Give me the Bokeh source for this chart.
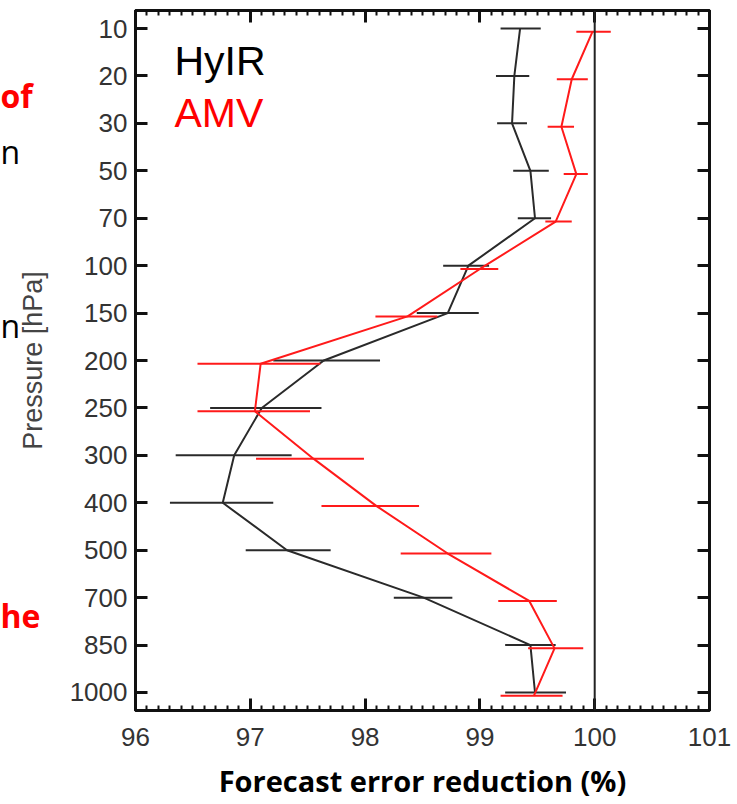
import math
from bokeh.plotting import figure
from bokeh.layouts import row
from bokeh.models import Range1d, FixedTicker, LinearAxis, Label, Span, ColumnDataSource
from bokeh.core.properties import value
from bokeh.embed import file_html
from bokeh.resources import INLINE

# ---------------- data ----------------
levels = ["10", "20", "30", "50", "70", "100", "150", "200", "250", "300",
          "400", "500", "700", "850", "1000"]
hyir = [99.35, 99.30, 99.28, 99.44, 99.48, 98.90, 98.72, 97.64, 97.10, 96.86,
        96.76, 97.32, 98.51, 99.44, 99.48]
hyir_lo = [99.18, 99.14, 99.15, 99.29, 99.33, 98.68, 98.45, 97.20, 96.65, 96.35,
           96.30, 96.96, 98.25, 99.22, 99.22]
hyir_hi = [99.53, 99.43, 99.41, 99.60, 99.62, 99.08, 98.99, 98.13, 97.62, 97.36,
           97.20, 97.70, 98.76, 99.66, 99.75]
amv = [99.98, 99.80, 99.71, 99.84, 99.66, 99.00, 98.37, 97.09, 97.04, 97.55,
       98.10, 98.72, 99.43, 99.65, 99.47]
amv_lo = [99.84, 99.67, 99.59, 99.73, 99.57, 98.83, 98.09, 96.54, 96.54, 97.05,
          97.62, 98.31, 99.16, 99.42, 99.18]
amv_hi = [100.14, 99.94, 99.82, 99.94, 99.80, 99.16, 98.63, 97.61, 97.52, 97.99,
          98.47, 99.10, 99.67, 99.90, 99.72]
x_ticks = [96, 97, 98, 99, 100, 101]
ref_value = 100
y_title = "Pressure [hPa]"
x_title = "Forecast error reduction (%)"

# cropped slide text fragments visible at the left edge
frag_red = ["of", "he"]
frag_black = ["n", "n"]

# ---------------- layout constants ----------------
W, H = 737, 804
LW = 50                      # left strip: slide fragments + y title
FL, FR, FT, FB = 135, 709, 10, 710
XMIN, XMAX = 96, 101
YPAD = 0.38
n = len(levels)
idx = list(range(n))
AMV_OFFSET = 0.07  # red bars drawn slightly below the black ones

def px2x(px):
    return XMIN + (px - FL) * (XMAX - XMIN) / (FR - FL)

def py2y(py):
    y0, y1 = -YPAD, n - 1 + YPAD
    return y0 + (py - FT) * (y1 - y0) / (FB - FT)

# ---------------- left strip ----------------
s = figure(width=LW, height=H, output_backend="svg", toolbar_location=None,
           x_range=Range1d(0, LW), y_range=Range1d(FB, FT),
           min_border=0, x_axis_location=None, y_axis_location=None)
s.outline_line_color = None
s.xgrid.visible = False
s.ygrid.visible = False
s.background_fill_color = "white"
s.border_fill_color = "white"
s.text(x=[0, 0], y=[95, 615], text=frag_red, text_font=value("Open Sans"),
       text_font_style="bold", text_font_size="32px", text_color="#ff0000",
       text_align="left", text_baseline="alphabetic")
s.text(x=[0, 0], y=[151, 325], text=frag_black, text_font=value("Open Sans"),
       text_font_size="32px", text_color="#000000",
       text_align="left", text_baseline="alphabetic")
s.text(x=[32], y=[360], text=[y_title], angle=math.pi / 2,
       text_font=value("Liberation Sans"), text_font_size="27px",
       text_color="#444444", text_align="center", text_baseline="middle")

# ---------------- main chart ----------------
p = figure(width=W - LW, height=H, output_backend="svg", toolbar_location=None,
           x_range=Range1d(XMIN, XMAX), y_range=Range1d(n - 1 + YPAD, -YPAD),
           min_border_left=FL - LW, min_border_right=W - FR,
           min_border_top=FT, min_border_bottom=H - FB,
           x_axis_location=None, y_axis_location=None)
p.background_fill_color = "white"
p.border_fill_color = "white"
p.xgrid.visible = False
p.ygrid.visible = False
p.outline_line_color = "#111111"
p.outline_line_width = 3

minor = [round(XMIN + i * 0.1, 2) for i in range(int((XMAX - XMIN) * 10) + 1)]
minor = [m for m in minor if m not in x_ticks]

tick_font = "Liberation Sans"

def style_axis(ax, labels=True):
    ax.axis_line_color = "#111111"
    ax.axis_line_width = 3
    ax.major_tick_line_color = "#111111"
    ax.major_tick_line_width = 3
    ax.minor_tick_line_color = "#111111"
    ax.minor_tick_line_width = 2
    ax.major_tick_out = 0
    ax.minor_tick_out = 0
    ax.major_tick_in = 12
    ax.minor_tick_in = 5
    ax.major_label_text_font = tick_font
    ax.major_label_text_font_size = "26px"
    ax.major_label_text_color = "#333333"
    if not labels:
        ax.major_label_text_font_size = "0px"
        ax.major_label_text_alpha = 0

# bottom axis
xb = LinearAxis(ticker=FixedTicker(ticks=x_ticks, minor_ticks=minor))
style_axis(xb)
xb.major_label_standoff = 17
xb.axis_label = x_title
xb.axis_label_text_font = "Open Sans"
xb.axis_label_text_font_style = "bold"
xb.axis_label_text_font_size = "29px"
xb.axis_label_text_color = "#000000"
xb.axis_label_standoff = 12
p.add_layout(xb, "below")

# top axis
xt = LinearAxis(ticker=FixedTicker(ticks=x_ticks, minor_ticks=minor))
style_axis(xt, labels=False)
p.add_layout(xt, "above")

# left axis
yl = LinearAxis(ticker=FixedTicker(ticks=idx, minor_ticks=[]),
                major_label_overrides={i: lab for i, lab in enumerate(levels)})
style_axis(yl)
yl.major_label_standoff = 8
p.add_layout(yl, "left")

# right axis
yr = LinearAxis(ticker=FixedTicker(ticks=idx, minor_ticks=[]))
style_axis(yr, labels=False)
p.add_layout(yr, "right")

# reference line at 100
p.add_layout(Span(location=ref_value, dimension="height", line_color="#222222",
                  line_width=2))

# series
y_h = idx
y_a = [i + AMV_OFFSET for i in idx]
black = "#2a2a2a"
red = "#ff1a1a"

src_h = ColumnDataSource(dict(x=hyir, lo=hyir_lo, hi=hyir_hi, y=y_h))
src_a = ColumnDataSource(dict(x=amv, lo=amv_lo, hi=amv_hi, y=y_a))

p.segment(x0="lo", x1="hi", y0="y", y1="y", source=src_h, line_color=black, line_width=2)
p.line(x="x", y="y", source=src_h, line_color=black, line_width=2)
p.segment(x0="lo", x1="hi", y0="y", y1="y", source=src_a, line_color=red, line_width=2)
p.line(x="x", y="y", source=src_a, line_color=red, line_width=2)

# legend texts
p.add_layout(Label(x=px2x(174), y=py2y(60), text="HyIR", text_font=tick_font,
                   text_font_size="41px", text_color="#000000",
                   text_baseline="alphabetic", text_align="left"))
p.add_layout(Label(x=px2x(174), y=py2y(112), text="AMV", text_font=tick_font,
                   text_font_size="41px", text_color="#ff0000",
                   text_baseline="alphabetic", text_align="left"))

layout = row(s, p, spacing=0)
open("out.html", "w").write(file_html(layout, INLINE))
